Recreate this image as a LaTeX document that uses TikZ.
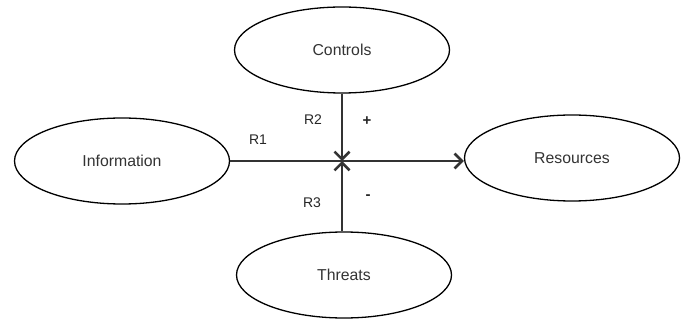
\documentclass[tikz,border=0pt]{standalone}
\usepackage{fontspec}
\setmainfont{Liberation Sans}
\usetikzlibrary{shapes.geometric,arrows.meta}
\tikzset{
  concept/.style={ellipse, draw=black, line width=1.3pt, fill=white,
    minimum width=215pt, minimum height=86pt, inner sep=0pt,
    font=\fontsize{15.8}{18}\selectfont, text=black!80},
  link/.style={draw=black!80, line width=1.3pt},
  linkarrow/.style={link, -{Straight Barb[length=7.5pt,width=15pt,line width=2.6pt]}},
  tag/.style={font=\fontsize{14}{16}\selectfont, text=black!85, inner sep=0pt}
}
\begin{document}
\begin{tikzpicture}[x=1pt,y=-1pt]
  \useasboundingbox (0,0) rectangle (687,320);
  % concepts
  \node[concept] (controls) at (342,50) {Controls};
  \node[concept] (info) at (122,161) {Information};
  \node[concept] (res) at (572,158) {Resources};
  \node[concept] (threats) at (344,275) {Threats};
  % junction where the influences meet
  \coordinate (hub) at (342,161);
  % connectors
  \draw[linkarrow] (info.east) -- (info.east -| res.west);
  \draw[linkarrow] (controls.south) -- (hub);
  \draw[linkarrow] (threats.north -| hub) -- (hub);
  % labels
  \node[tag] (r1) at (258,140) {R1};
  \node[tag] (r2) at (313,120) {R2};
  \node[tag, font=\fontsize{15}{16}\bfseries] (plus) at (367,121) {+};
  \node[tag, font=\fontsize{15}{16}\bfseries] (minus) at (368,197) {-};
  \node[tag] (r3) at (312,203) {R3};
\end{tikzpicture}
\end{document}
